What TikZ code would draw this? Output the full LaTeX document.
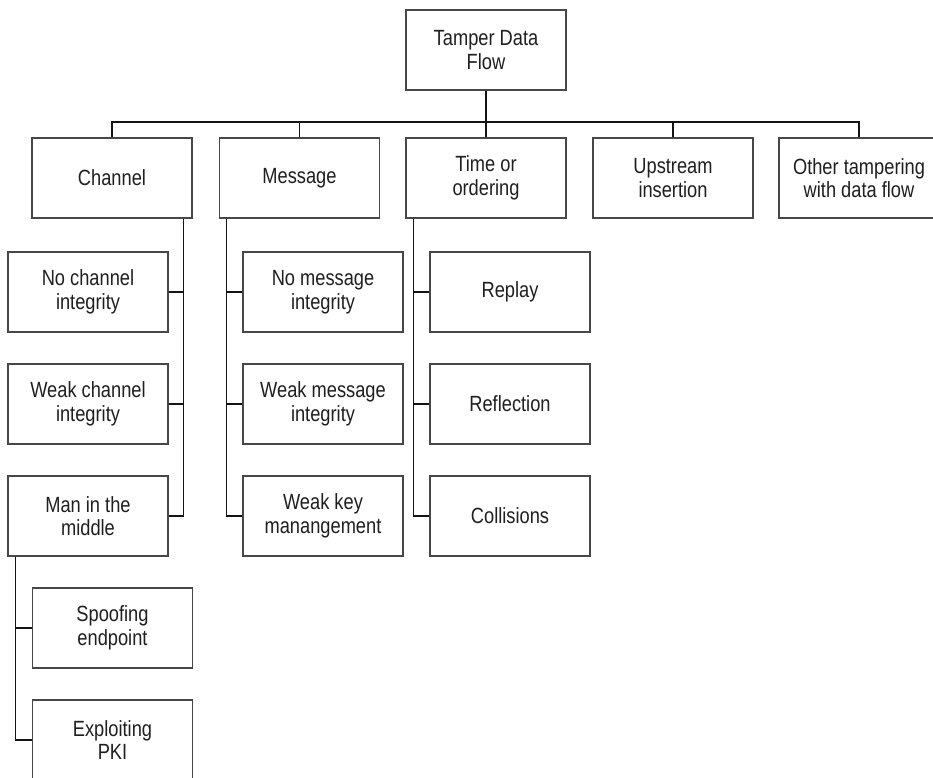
\documentclass[tikz,border=0pt]{standalone}
\usepackage{fontspec}
\setmainfont[FakeStretch=0.83]{Liberation Sans}
\begin{document}
\begin{tikzpicture}[x=1pt,y=-1pt,
  box/.style={draw=black!72,line width=1.1pt,fill=white,minimum width=160pt,minimum height=80pt,
    inner sep=0pt,align=center,text=black!88,font=\fontsize{22}{23.5}\selectfont},
  conn/.style={draw=black!92,line width=1.5pt}]
\useasboundingbox (0,0) rectangle (933,777);
\clip (0,0) rectangle (933,777);
\fill[white] (0,0) rectangle (933,777);
% level 0
\node[box] (top) at (486,50) {Tamper Data\\Flow};
% level 1
\node[box] (chan) at (112,178) {Channel};
\node[box] (msg) at (299.5,178) {Message};
\node[box] (time) at (486,178) {Time or\\ordering};
\node[box] (up) at (673,178) {Upstream\\insertion};
\node[box] (other) at (859,178) {Other tampering\\with data flow};
% channel children
\node[box] (nci) at (88,292) {No channel\\integrity};
\node[box] (wci) at (88,404) {Weak channel\\integrity};
\node[box] (mitm) at (88,516) {Man in the\\middle};
\node[box] (spoof) at (112.5,628) {Spoofing\\endpoint};
\node[box] (pki) at (112.5,740) {Exploiting\\PKI};
% message children
\node[box] (nmi) at (323,292) {No message\\integrity};
\node[box] (wmi) at (323,404) {Weak message\\integrity};
\node[box] (wkm) at (323,516) {Weak key\\manangement};
% time children
\node[box] (replay) at (510,292) {Replay};
\node[box] (refl) at (510,404) {Reflection};
\node[box] (coll) at (510,516) {Collisions};
% bus
\coordinate (busy) at (0,122);
\draw[conn] (top.south) -- (top.south |- busy);
\draw[conn] (chan.north) |- (other.north |- busy) -- (other.north);
\draw[conn] (msg.north) -- (msg.north |- busy);
\draw[conn] (time.north) -- (time.north |- busy);
\draw[conn] (up.north) -- (up.north |- busy);
% channel trunk
\coordinate (ct) at ([xshift=-9pt]chan.south east);
\draw[conn] (ct) |- (mitm.east);
\draw[conn] (nci.east) -- (nci.east -| ct);
\draw[conn] (wci.east) -- (wci.east -| ct);
% message trunk
\coordinate (mt) at ([xshift=7.5pt]msg.south west);
\draw[conn] (mt) |- (wkm.west);
\draw[conn] (nmi.west) -- (nmi.west -| mt);
\draw[conn] (wmi.west) -- (wmi.west -| mt);
% time trunk
\coordinate (tt) at ([xshift=8pt]time.south west);
\draw[conn] (tt) |- (coll.west);
\draw[conn] (replay.west) -- (replay.west -| tt);
\draw[conn] (refl.west) -- (refl.west -| tt);
% man in the middle trunk
\coordinate (mm) at ([xshift=8pt]mitm.south west);
\draw[conn] (mm) |- (pki.west);
\draw[conn] (spoof.west) -- (spoof.west -| mm);
\end{tikzpicture}
\end{document}
